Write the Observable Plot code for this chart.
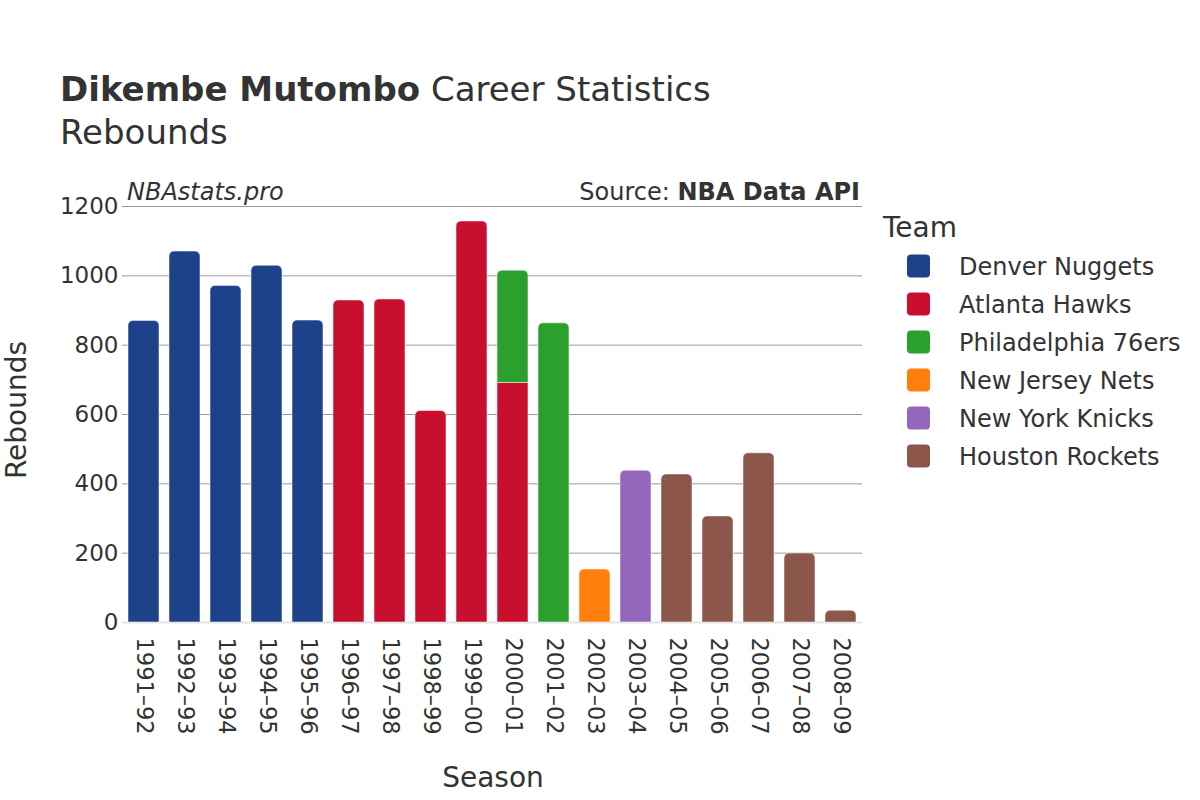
<!DOCTYPE html>
<html>
<head>
<meta charset="utf-8">
<script src="https://cdn.jsdelivr.net/npm/d3@7"></script>
<script src="https://cdn.jsdelivr.net/npm/@observablehq/plot@0.6"></script>
<style>
  html, body { margin: 0; padding: 0; background: #fff; }
  #chart { width: 1200px; height: 800px; }
</style>
</head>
<body>
<div id="chart"></div>
<script>
const seasons = ["1991–92","1992–93","1993–94","1994–95","1995–96","1996–97","1997–98","1998–99","1999–00","2000–01","2001–02","2002–03","2003–04","2004–05","2005–06","2006–07","2007–08","2008–09"];
const segSeason = ["1991–92","1992–93","1993–94","1994–95","1995–96","1996–97","1997–98","1998–99","1999–00","2000–01","2000–01","2001–02","2002–03","2003–04","2004–05","2005–06","2006–07","2007–08","2008–09"];
const segTeam = ["Denver Nuggets","Denver Nuggets","Denver Nuggets","Denver Nuggets","Denver Nuggets","Atlanta Hawks","Atlanta Hawks","Atlanta Hawks","Atlanta Hawks","Atlanta Hawks","Philadelphia 76ers","Philadelphia 76ers","New Jersey Nets","New York Knicks","Houston Rockets","Houston Rockets","Houston Rockets","Houston Rockets","Houston Rockets"];
const segReb = [870,1070,971,1029,871,929,932,610,1157,691,324,863,153,438,427,306,488,199,34];
const teams = ["Denver Nuggets","Atlanta Hawks","Philadelphia 76ers","New Jersey Nets","New York Knicks","Houston Rockets"];
const teamColors = ["#1d428a","#c8102e","#2ca02c","#ff7f0e","#9467bd","#8c564b"];
const yTicks = [0,200,400,600,800,1000,1200];

// build stacked segments
const cum = new Map();
const segs = segSeason.map((s, i) => {
  const base = cum.get(s) || 0;
  cum.set(s, base + segReb[i]);
  return {season: s, team: segTeam[i], y1: base, y2: base + segReb[i]};
});
segs.forEach(d => { d.top = cum.get(d.season) === d.y2; });

const font = "DejaVu Sans";
const textColor = "#333";

const svg = Plot.plot({
  width: 1200,
  height: 800,
  marginTop: 206,
  marginBottom: 178,
  marginLeft: 122,
  marginRight: 338,
  style: {fontFamily: font, color: textColor, background: "#fff", overflow: "visible"},
  x: {domain: seasons, paddingInner: 0.25, paddingOuter: 0.1, label: null},
  y: {domain: [0, 1200], label: null},
  color: {domain: teams, range: teamColors},
  marks: [
    Plot.ruleY(yTicks.filter(t => t > 0), {stroke: "#999", strokeWidth: 1}),
    Plot.ruleY([0], {stroke: "#e3e3e3", strokeWidth: 2}),
    Plot.barY(segs.filter(d => !d.top), {x: "season", y1: "y1", y2: "y2", fill: "team", stroke: "#fff", strokeOpacity: 0.5, strokeWidth: 1}),
    Plot.barY(segs.filter(d => d.top), {x: "season", y1: "y1", y2: "y2", fill: "team", stroke: "#fff", strokeOpacity: 0.5, strokeWidth: 1, ry1: 5}),
    Plot.axisY({ticks: yTicks, tickSize: 0, tickPadding: 4, fontSize: 23, fill: textColor, tickFormat: d => String(d), label: null}),
    Plot.axisX({tickRotate: 90, tickSize: 0, tickPadding: 15, fontSize: 22.5, fill: textColor, label: null})
  ]
});

const s = d3.select(svg);
function addText(x, y, parts, opts = {}) {
  const t = s.append("text")
    .attr("x", x).attr("y", y)
    .attr("fill", textColor)
    .attr("font-family", font)
    .attr("font-size", opts.size || 22)
    .attr("text-anchor", opts.anchor || "start");
  if (opts.transform) t.attr("transform", opts.transform);
  if (opts.italic) t.attr("font-style", "italic");
  parts.forEach(p => {
    t.append("tspan").attr("font-weight", p.bold ? "bold" : "normal").text(p.text);
  });
  return t;
}
addText(60, 101, [{text: "Dikembe Mutombo", bold: true}, {text: " Career Statistics"}], {size: 34});
addText(60, 144, [{text: "Rebounds"}], {size: 34});
addText(127, 200, [{text: "NBAstats.pro"}], {size: 24, italic: true});
addText(860, 200, [{text: "Source: "}, {text: "NBA Data API", bold: true}], {size: 24, anchor: "end"});
addText(0, 0, [{text: "Rebounds"}], {size: 28, anchor: "middle", transform: "translate(26,410) rotate(-90)"});
addText(493, 787, [{text: "Season"}], {size: 28, anchor: "middle"});

// legend
addText(883, 237, [{text: "Team"}], {size: 28});
teams.forEach((t, i) => {
  const cy = 266 + i * 38;
  s.append("rect").attr("x", 907).attr("y", cy - 11.5).attr("width", 23).attr("height", 23)
    .attr("rx", 4).attr("fill", teamColors[i]);
  addText(959, cy + 8.5, [{text: t}], {size: 24});
});

document.getElementById("chart").appendChild(svg);
</script>
</body>
</html>
